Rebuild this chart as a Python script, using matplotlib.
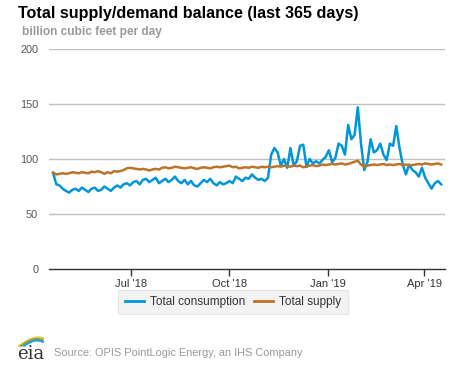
import numpy as np
import pandas as pd
import matplotlib
matplotlib.use("Agg")
import matplotlib.pyplot as plt

plt.rcParams['font.family'] = ['Liberation Sans', 'DejaVu Sans']

# ---- data ----
start_date = "2018-04-19"
step_days = 3
consumption = [
    87.5, 77, 76, 73, 71, 69.5, 72, 73, 71, 74, 72, 70, 73, 74, 71, 72, 75, 73, 71, 74,
    76, 74, 77, 78, 76, 79, 80, 77, 81, 82, 79, 81, 83, 78, 80, 82, 79, 81, 84, 80,
    78, 81, 77, 80, 76, 75, 78, 81, 79, 82, 78, 76, 79, 77, 78, 80, 78, 84, 82, 80,
    83, 82, 86, 83, 81, 82, 80, 83, 104, 110, 106, 94, 100, 92, 110, 94, 98, 112, 113, 93,
    100, 96, 98, 96, 99, 102, 108, 97, 101, 114, 112, 104, 131, 118, 122, 147, 114, 90, 97, 118,
    106, 108, 114, 104, 99, 114, 112, 130, 110, 95, 86, 95, 90, 88, 84, 92, 83, 78, 73, 78,
    80, 77,
]
supply = [
    87.5, 86, 86.5, 87, 86.5, 87, 88, 87.5, 87, 88, 87.5, 87, 88.5, 88, 89, 88, 86.5, 88, 87, 89,
    88.5, 89, 90, 91.5, 92, 91.5, 91, 90.5, 91, 90.5, 89.5, 90.5, 91, 90.5, 92, 92.5, 91.5, 92, 93, 92.5,
    92, 91.5, 92, 92.5, 91.5, 91, 92, 92.5, 92, 91.5, 92.5, 93, 92.5, 93, 93.5, 94, 92.5, 93, 91.5, 92,
    92.5, 92, 93, 92.5, 92, 93, 92.5, 93, 92.5, 93, 93.5, 93, 94, 93.5, 93, 94, 93.5, 94, 92.5, 93,
    94, 94.5, 93.5, 94, 95, 94.5, 95, 95.5, 95, 95.5, 96, 95, 95.5, 96.5, 97.5, 98.5, 95, 93, 94, 94.5,
    95, 94.5, 95, 95.5, 94.5, 95, 94.5, 95, 95.5, 94.5, 95, 94, 94.5, 95, 95.5, 95, 96, 95.5, 95, 95.5,
    96, 95,
]
series_names = ["Total consumption", "Total supply"]
y_ticks = [0, 50, 100, 150, 200]
x_tick_dates = ["2018-07-01", "2018-10-01", "2019-01-01", "2019-04-01"]
x_tick_labels = ["Jul '18", "Oct '18", "Jan '19", "Apr '19"]

dates_c = pd.date_range(start_date, periods=len(consumption), freq=f"{step_days}D")
dates_s = pd.date_range(start_date, periods=len(supply), freq=f"{step_days}D")

BLUE = "#0096d7"
ORANGE = "#bd732a"

fig = plt.figure(figsize=(4.77, 3.67), dpi=100)
ax = fig.add_axes([0.1034, 0.267, 0.8305, 0.5995])

ax.plot(dates_c, consumption, color=BLUE, lw=1.8, solid_joinstyle='round', zorder=3)
ax.plot(dates_s, supply, color=ORANGE, lw=1.8, solid_joinstyle='round', zorder=3)

t0 = pd.Timestamp(start_date)
ax.set_xlim(t0 - pd.Timedelta(days=3.5), t0 + pd.Timedelta(days=367))
ax.set_ylim(0, 200)
ax.set_yticks(y_ticks)
ax.set_yticklabels([str(v) for v in y_ticks])
ax.set_xticks(pd.to_datetime(x_tick_dates))
ax.set_xticklabels(x_tick_labels)

for v in y_ticks[1:]:
    ax.axhline(v, color="#c0c0c0", lw=1.0, zorder=1)

for s in ["top", "right", "left"]:
    ax.spines[s].set_visible(False)
ax.spines["bottom"].set_color("#333333")
ax.spines["bottom"].set_linewidth(1.0)
ax.tick_params(axis="y", length=0, pad=8, labelsize=7.8, labelcolor="#555555")
ax.tick_params(axis="x", length=5, width=1, color="#333333", direction="out", pad=2,
               labelsize=8, labelcolor="#333333")

# title & subtitle
fig.text(18 / 477, 1 - 18 / 367, "Total supply/demand balance (last 365 days)",
         fontsize=11.6, fontweight="bold", color="#000000", ha="left", va="baseline")
fig.text(22 / 477, 1 - 35 / 367, "billion cubic feet per day",
         fontsize=8.6, fontweight="bold", color="#9a9a9a", ha="left", va="baseline")

# legend
leg = fig.legend(
    handles=[plt.Line2D([], [], color=BLUE, lw=2), plt.Line2D([], [], color=ORANGE, lw=2)],
    labels=series_names, loc="center", bbox_to_anchor=(233 / 477, 1 - 302 / 367),
    ncol=2, frameon=True, fontsize=8.5, handlelength=1.6, handletextpad=0.5,
    columnspacing=0.8, borderpad=0.55, fancybox=False)
leg.get_frame().set_facecolor("#f0f0f0")
leg.get_frame().set_edgecolor("#e0e0e0")
leg.get_frame().set_linewidth(0.8)
for t in leg.get_texts():
    t.set_color("#333333")

# source line with eia logo
fig.text(54 / 477, 1 - 356 / 367, "Source: OPIS PointLogic Energy, an IHS Company",
         fontsize=7.9, color="#999999", ha="left", va="baseline")
fig.text(17 / 477, 1 - 359 / 367, "eia", fontsize=13, family="DejaVu Serif",
         color="#333333", ha="left", va="baseline")
# logo swooshes (figure pixel coordinates)
lax = fig.add_axes([0, 0, 1, 1], facecolor="none")
lax.set_xlim(0, 477)
lax.set_ylim(367, 0)
lax.axis("off")
tt = np.linspace(0, 1, 30)
for col, dy, x0 in [("#f4c430", 0.0, 19), ("#6ab04c", 2.0, 21), ("#2e9bd6", 4.0, 24)]:
    xs = x0 + (43 - x0) * tt
    ys = 346 - 8.5 * np.sin(tt * np.pi * 0.62) + dy * tt
    lax.plot(xs, ys, color=col, lw=1.5, solid_capstyle="round")

fig.savefig("out.png", dpi=100)
